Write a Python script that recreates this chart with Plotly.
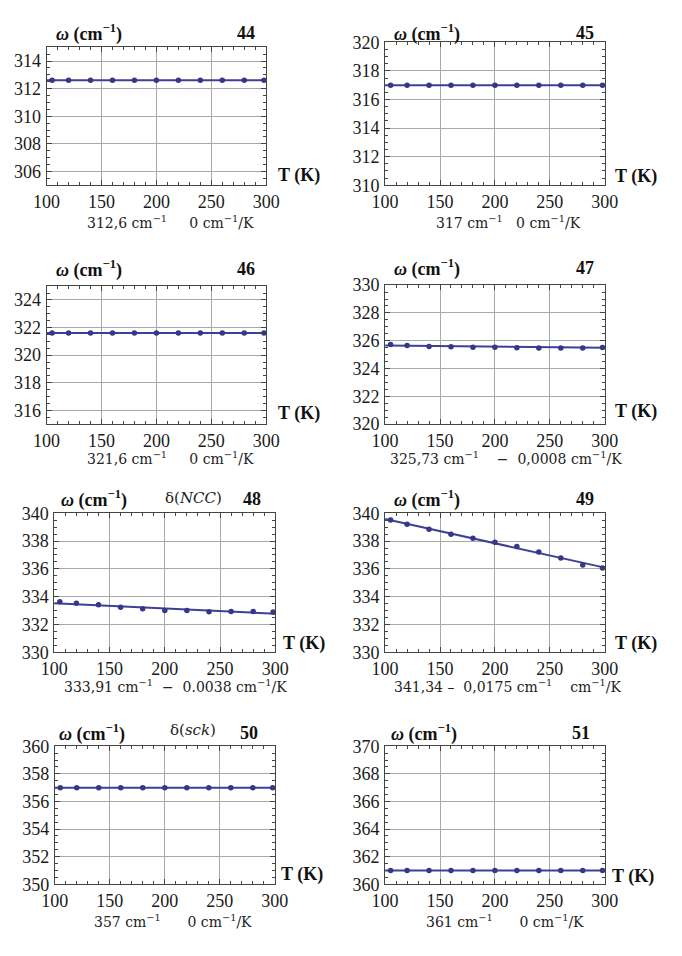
import plotly.graph_objects as go

W, H = 682, 956

# ---------------- data ----------------
panel_ids = ["44", "45", "46", "47", "48", "49", "50", "51"]
T_points = [105, 120, 140, 160, 180, 200, 220, 240, 260, 280, 298]

omega_44 = [312.6, 312.6, 312.6, 312.6, 312.6, 312.6, 312.6, 312.6, 312.6, 312.6, 312.6]
omega_45 = [317, 317, 317, 317, 317, 317, 317, 317, 317, 317, 317]
omega_46 = [321.6, 321.6, 321.6, 321.6, 321.6, 321.6, 321.6, 321.6, 321.6, 321.6, 321.6]
omega_47 = [325.72, 325.66, 325.58, 325.57, 325.53, 325.53, 325.49, 325.48, 325.48, 325.48, 325.52]
omega_48 = [333.64, 333.52, 333.42, 333.23, 333.13, 333.01, 333.01, 332.92, 332.93, 332.93, 332.89]
omega_49 = [339.51, 339.2, 338.85, 338.49, 338.21, 337.91, 337.6, 337.22, 336.78, 336.28, 336.07]
omega_50 = [357, 357, 357, 357, 357, 357, 357, 357, 357, 357, 357]
omega_51 = [361, 361, 361, 361, 361, 361, 361, 361, 361, 361, 361]
omega_series = [omega_44, omega_45, omega_46, omega_47, omega_48, omega_49, omega_50, omega_51]

fit_T = [100, 300]
fit_44 = [312.6, 312.6]
fit_45 = [317, 317]
fit_46 = [321.6, 321.6]
fit_47 = [325.65, 325.49]
fit_48 = [333.53, 332.77]
fit_49 = [339.59, 336.09]
fit_50 = [357, 357]
fit_51 = [361, 361]
fit_series = [fit_44, fit_45, fit_46, fit_47, fit_48, fit_49, fit_50, fit_51]

y_ranges = [[305, 315], [310, 320], [315, 325], [320, 330],
            [330, 340], [330, 340], [350, 360], [360, 370]]
x_range = [100, 300]

SUP = "<sup>−1</sup>"
NB = "\u00a0"
captions = [
    f"312,6 cm{SUP}{NB*5}0 cm{SUP}/K",
    f"317 cm{SUP}{NB*3}0 cm{SUP}/K",
    f"321,6 cm{SUP}{NB*5}0 cm{SUP}/K",
    f"325,73 cm{SUP}{NB*4}−{NB*2}0,0008 cm{SUP}/K",
    f"333,91 cm{SUP}{NB*2}−{NB*2}0.0038 cm{SUP}/K",
    f"341,34 –{NB*2}0,0175 cm{SUP}{NB*4}cm{SUP}/K",
    f"357 cm{SUP}{NB*6}0 cm{SUP}/K",
    f"361 cm{SUP}{NB*6}0 cm{SUP}/K",
]
mode_labels = ["", "", "", "", "δ(<i>NCC</i>)", "", "δ(<i>sck</i>)", ""]

# ---------------- layout geometry (pixels) ----------------
boxes = [  # x0, x1, y0(top), y1(bottom)
    (34, 263, 38, 179),
    (387, 616, 33, 179),
    (34, 263, 282, 423),
    (387, 616, 281, 423),
    (42, 272.5, 514, 656),
    (387, 616, 514, 656),
    (42.5, 272, 752, 893),
    (387, 616, 752, 893),
]
omega_pos = [(78, 24), (431, 23), (78, 265), (431, 264), (83, 499), (431, 499), (81, 738), (428, 738)]
num_pos = [(242, 24), (595, 23), (242, 265), (595, 264), (248, 499), (595, 499), (245, 738), (591, 738)]
mode_pos = [None, None, None, None, (187, 498), None, (187, 735), None]
tk_pos = [(297, 169), (649, 170), (297, 412), (649, 410), (302, 647), (649, 647), (300, 883), (646, 885)]
cap_pos = [(163, 217), (516, 217), (163, 458), (513, 458), (168, 690), (515, 690), (166, 930), (512, 930)]

LINE_C = "#3f3f94"
DOT_C = "#36368a"
SERIF = "Liberation Serif, Times New Roman, serif"
CAPF = "DejaVu Serif, serif"

fig = go.Figure()
annotations = []

def px(x):
    return x / W

def py(y):
    return 1 - y / H

for i in range(8):
    ax = "" if i == 0 else str(i + 1)
    x0, x1, y0, y1 = boxes[i]
    fig.add_trace(go.Scatter(x=fit_T, y=fit_series[i], mode="lines",
                             line=dict(color=LINE_C, width=2),
                             xaxis="x" + ax, yaxis="y" + ax, showlegend=False,
                             hoverinfo="skip"))
    fig.add_trace(go.Scatter(x=T_points, y=omega_series[i], mode="markers",
                             marker=dict(color=DOT_C, size=5.5),
                             xaxis="x" + ax, yaxis="y" + ax, showlegend=False,
                             cliponaxis=False))
    common = dict(showline=True, linecolor="#444444", linewidth=1, mirror="ticks",
                  ticks="inside", ticklen=5, tickcolor="#444444", tickwidth=1,
                  showgrid=True, gridcolor="#a8a8a8", gridwidth=1, zeroline=False,
                  tickfont=dict(family=SERIF, size=18, color="#1a1a1a"))
    fig.update_layout(**{
        "xaxis" + ax: dict(domain=[px(x0), px(x1)], range=x_range, dtick=50, tick0=0,
                           anchor="y" + ax,
                           minor=dict(ticks="inside", ticklen=3, dtick=10, tick0=0,
                                      tickcolor="#444444", showgrid=False),
                           ticklabelstandoff=0,
                           **common),
        "yaxis" + ax: dict(domain=[py(y1), py(y0)], range=y_ranges[i], dtick=2, tick0=0,
                           anchor="x" + ax,
                           minor=dict(ticks="inside", ticklen=3, dtick=0.5, tick0=0,
                                      tickcolor="#444444", showgrid=False),
                           ticklabelstandoff=1,
                           **common),
    })
    bold = dict(family=SERIF, size=18, color="#111111")
    annotations.append(dict(x=px(omega_pos[i][0]), y=py(omega_pos[i][1]), xref="paper", yref="paper",
                            text="<b><i>ω</i> (cm<sup>−1</sup>)</b>", showarrow=False,
                            xanchor="center", yanchor="middle", font=bold))
    annotations.append(dict(x=px(num_pos[i][0]), y=py(num_pos[i][1]), xref="paper", yref="paper",
                            text="<b>" + panel_ids[i] + "</b>", showarrow=False,
                            xanchor="center", yanchor="middle", font=bold))
    annotations.append(dict(x=px(tk_pos[i][0]), y=py(tk_pos[i][1]), xref="paper", yref="paper",
                            text="<b>T (K)</b>", showarrow=False,
                            xanchor="center", yanchor="middle", font=bold))
    annotations.append(dict(x=px(cap_pos[i][0]), y=py(cap_pos[i][1]), xref="paper", yref="paper",
                            text=captions[i], showarrow=False,
                            xanchor="center", yanchor="middle",
                            font=dict(family=CAPF, size=14, color="#222222")))
    if mode_pos[i] is not None:
        annotations.append(dict(x=px(mode_pos[i][0]), y=py(mode_pos[i][1]), xref="paper", yref="paper",
                                text=mode_labels[i], showarrow=False,
                                xanchor="center", yanchor="middle",
                                font=dict(family=CAPF, size=15, color="#222222")))

fig.update_layout(width=W, height=H, margin=dict(l=0, r=0, t=0, b=0),
                  paper_bgcolor="white", plot_bgcolor="white",
                  annotations=annotations, showlegend=False)
fig.write_html("out.html", config={"displayModeBar": False},
               post_script="document.body.style.margin='0';document.body.style.padding='0';document.body.style.overflow='hidden';")
